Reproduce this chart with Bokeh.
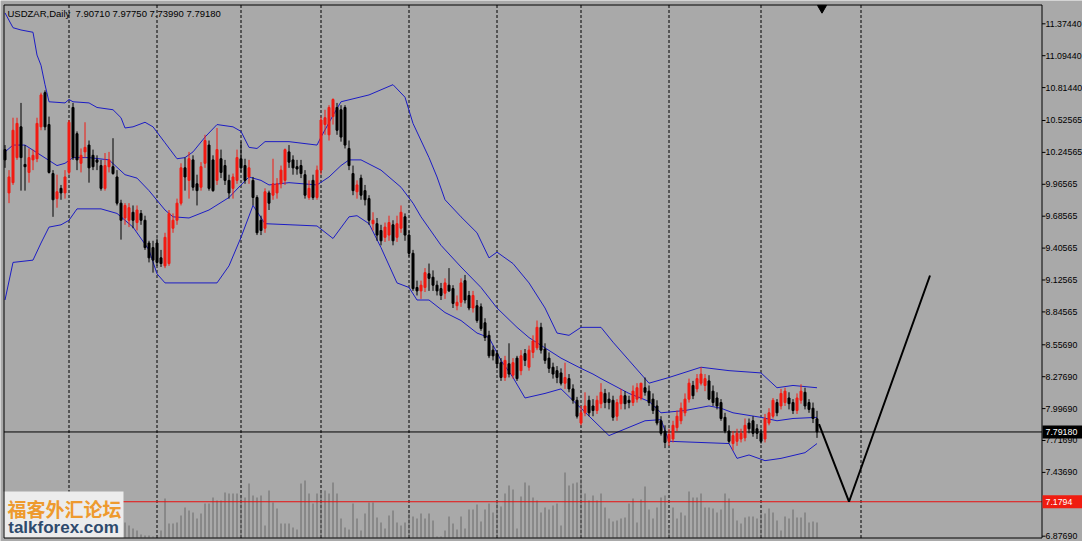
from bokeh.plotting import figure
from bokeh.models import Range1d, ColumnDataSource
from bokeh.core.properties import value
from bokeh.embed import file_html
from bokeh.resources import INLINE

# ---------------- data ----------------
symbol = "USDZAR,Daily"

opens = [
    10.27, 9.89, 9.98, 10.20, 10.47, 10.14, 10.07, 10.18, 10.19, 10.47,
    10.77, 10.49, 10.06, 9.84, 9.93, 9.89, 10.07, 10.64, 10.41, 10.15,
    10.25, 10.31, 10.22, 10.18, 10.13, 9.93, 10.12, 10.12, 10.03, 9.80,
    9.67, 9.65, 9.72, 9.63, 9.71, 9.65, 9.45, 9.41, 9.45, 9.32,
    9.25, 9.27, 9.58, 9.65, 9.80, 10.11, 10.00, 10.18, 9.97, 9.94,
    10.15, 10.31, 10.18, 10.00, 10.19, 10.13, 10.00, 9.93, 10.00, 10.19,
    10.13, 10.03, 10.00, 9.85, 9.65, 9.58, 9.89, 9.87, 9.89, 9.97,
    10.00, 10.25, 10.18, 10.12, 10.13, 10.05, 9.85, 10.00, 9.85, 10.09,
    10.49, 10.40, 10.56, 10.64, 10.62, 10.64, 10.28, 10.06, 9.90, 10.02,
    9.91, 9.84, 9.62, 9.62, 9.56, 9.50, 9.52, 9.61, 9.50, 9.58,
    9.68, 9.52, 9.36, 9.06, 9.03, 9.06, 9.18, 9.15, 9.08, 9.05,
    9.01, 9.08, 9.05, 8.90, 8.93, 9.12, 8.99, 8.88, 8.90, 8.89,
    8.75, 8.64, 8.51, 8.48, 8.40, 8.27, 8.39, 8.29, 8.44, 8.33,
    8.48, 8.36, 8.49, 8.53, 8.71, 8.52, 8.44, 8.36, 8.33, 8.31,
    8.22, 8.26, 8.17, 8.07, 7.87, 7.96, 8.07, 8.02, 7.98, 8.04,
    8.13, 8.08, 8.07, 7.93, 8.04, 8.11, 8.07, 8.05, 8.08, 8.09,
    8.18, 8.15, 8.08, 8.02, 7.89, 7.80, 7.71, 7.73, 7.83, 7.89,
    7.96, 8.08, 8.20, 8.17, 8.22, 8.20, 8.24, 8.15, 8.09, 8.05,
    7.92, 7.80, 7.69, 7.71, 7.73, 7.74, 7.87, 7.89, 7.82, 7.78,
    7.73, 7.87, 7.93, 8.05, 8.02, 8.05, 8.09, 8.05, 7.98, 8.07,
    8.14, 8.05, 8.00, 7.9071,
]
highs = [
    10.31, 10.09, 10.55, 10.55, 10.68, 10.31, 10.28, 10.27, 10.55, 10.77,
    10.79, 10.56, 10.09, 10.05, 9.96, 10.09, 10.53, 10.68, 10.43, 10.28,
    10.51, 10.35, 10.27, 10.22, 10.18, 10.24, 10.25, 10.37, 10.09, 9.83,
    9.80, 9.80, 9.78, 9.78, 9.74, 9.69, 9.47, 9.47, 9.49, 9.39,
    9.54, 9.74, 9.71, 9.84, 10.15, 10.20, 10.25, 10.22, 10.05, 10.16,
    10.40, 10.35, 10.22, 10.46, 10.27, 10.18, 10.05, 10.06, 10.27, 10.34,
    10.19, 10.18, 10.03, 9.87, 9.69, 9.93, 9.91, 10.19, 10.02, 10.13,
    10.28, 10.31, 10.22, 10.18, 10.18, 10.09, 10.00, 10.05, 10.13, 10.56,
    10.62, 10.66, 10.72, 10.68, 10.66, 10.66, 10.35, 10.13, 10.00, 10.05,
    9.96, 9.87, 9.72, 9.67, 9.61, 9.63, 9.69, 9.65, 9.69, 9.78,
    9.71, 9.56, 9.39, 9.12, 9.12, 9.23, 9.27, 9.21, 9.12, 9.10,
    9.14, 9.23, 9.08, 8.99, 9.14, 9.17, 9.03, 9.03, 8.95, 8.92,
    8.79, 8.68, 8.55, 8.51, 8.44, 8.46, 8.57, 8.44, 8.46, 8.51,
    8.52, 8.55, 8.64, 8.77, 8.75, 8.57, 8.49, 8.40, 8.37, 8.35,
    8.40, 8.30, 8.21, 8.10, 8.02, 8.14, 8.11, 8.08, 8.11, 8.22,
    8.17, 8.14, 8.11, 8.08, 8.17, 8.15, 8.11, 8.20, 8.22, 8.22,
    8.27, 8.20, 8.13, 8.07, 7.93, 7.85, 7.82, 7.89, 7.98, 8.05,
    8.13, 8.26, 8.24, 8.30, 8.36, 8.30, 8.29, 8.20, 8.14, 8.08,
    7.96, 7.85, 7.80, 7.82, 7.82, 7.91, 7.91, 7.93, 7.86, 7.82,
    7.95, 8.00, 8.09, 8.08, 8.17, 8.18, 8.14, 8.08, 8.13, 8.21,
    8.18, 8.08, 8.05, 7.9775,
]
lows = [
    10.11, 9.80, 9.96, 10.18, 9.91, 9.91, 9.98, 10.09, 10.16, 10.44,
    10.44, 10.06, 9.68, 9.76, 9.83, 9.84, 10.05, 10.18, 10.09, 10.07,
    10.20, 9.98, 10.09, 10.09, 9.91, 9.91, 10.07, 10.05, 9.78, 9.48,
    9.61, 9.59, 9.58, 9.56, 9.61, 9.39, 9.28, 9.19, 9.25, 9.24,
    9.23, 9.25, 9.54, 9.61, 9.78, 9.91, 9.84, 9.91, 9.78, 9.91,
    10.11, 9.91, 9.90, 9.96, 10.02, 9.96, 9.84, 9.84, 9.97, 10.07,
    9.97, 9.97, 9.78, 9.52, 9.52, 9.54, 9.74, 9.83, 9.84, 9.93,
    9.96, 10.11, 10.05, 10.05, 10.02, 9.84, 9.83, 9.83, 9.83, 10.05,
    10.40, 10.35, 10.49, 10.40, 10.34, 10.28, 10.09, 9.87, 9.84, 9.83,
    9.78, 9.61, 9.56, 9.47, 9.43, 9.46, 9.47, 9.43, 9.46, 9.54,
    9.47, 9.33, 9.03, 8.99, 8.96, 9.02, 9.03, 9.03, 8.99, 8.95,
    8.96, 9.02, 8.88, 8.86, 8.89, 8.92, 8.86, 8.84, 8.75, 8.68,
    8.59, 8.44, 8.42, 8.35, 8.24, 8.24, 8.27, 8.26, 8.24, 8.29,
    8.37, 8.33, 8.44, 8.51, 8.48, 8.39, 8.31, 8.26, 8.22, 8.20,
    8.17, 8.14, 8.04, 7.91, 7.85, 7.93, 7.93, 7.93, 7.95, 8.00,
    8.00, 7.99, 7.89, 7.89, 7.99, 7.99, 8.00, 8.02, 8.05, 8.07,
    8.11, 8.02, 7.95, 7.85, 7.76, 7.65, 7.67, 7.70, 7.80, 7.86,
    7.93, 8.05, 8.08, 8.14, 8.20, 8.15, 8.07, 8.02, 7.99, 7.89,
    7.78, 7.69, 7.63, 7.67, 7.70, 7.71, 7.78, 7.75, 7.73, 7.69,
    7.70, 7.85, 7.91, 7.93, 7.99, 8.02, 7.99, 7.95, 7.95, 8.04,
    7.99, 7.96, 7.87, 7.7399,
]
closes = [
    10.18, 10.03, 10.44, 10.50, 10.20, 10.12, 10.20, 10.22, 10.50, 10.75,
    10.47, 10.07, 9.83, 9.90, 9.89, 10.03, 10.51, 10.20, 10.18, 10.22,
    10.29, 10.11, 10.12, 10.16, 9.93, 10.13, 10.18, 10.06, 9.80, 9.65,
    9.78, 9.76, 9.65, 9.74, 9.65, 9.41, 9.32, 9.30, 9.28, 9.27,
    9.50, 9.71, 9.65, 9.80, 10.11, 10.03, 10.19, 9.94, 9.91, 10.12,
    10.35, 9.93, 9.91, 10.27, 10.07, 10.00, 9.89, 10.03, 10.20, 10.11,
    10.00, 10.11, 9.85, 9.54, 9.56, 9.90, 9.80, 9.97, 9.97, 10.09,
    10.27, 10.16, 10.11, 10.10, 10.06, 9.87, 9.93, 9.85, 10.09, 10.53,
    10.55, 10.64, 10.71, 10.44, 10.38, 10.31, 10.13, 9.91, 9.96, 9.87,
    9.83, 9.65, 9.65, 9.52, 9.47, 9.59, 9.63, 9.47, 9.62, 9.72,
    9.52, 9.36, 9.05, 9.03, 9.08, 9.19, 9.14, 9.08, 9.03, 8.99,
    9.10, 9.03, 8.92, 8.93, 9.10, 8.95, 8.88, 8.99, 8.77, 8.70,
    8.62, 8.46, 8.46, 8.39, 8.27, 8.42, 8.30, 8.40, 8.26, 8.46,
    8.42, 8.51, 8.59, 8.71, 8.51, 8.42, 8.35, 8.30, 8.27, 8.22,
    8.27, 8.17, 8.07, 7.93, 7.96, 8.02, 7.96, 7.98, 8.07, 8.14,
    8.05, 8.05, 7.92, 8.05, 8.11, 8.04, 8.05, 8.15, 8.18, 8.22,
    8.14, 8.05, 7.98, 7.87, 7.78, 7.70, 7.77, 7.85, 7.93, 8.00,
    8.08, 8.22, 8.11, 8.26, 8.30, 8.26, 8.08, 8.05, 8.02, 7.91,
    7.80, 7.71, 7.76, 7.78, 7.78, 7.85, 7.82, 7.78, 7.78, 7.71,
    7.91, 7.96, 8.07, 7.96, 8.13, 8.15, 8.04, 7.98, 8.09, 8.15,
    8.02, 7.99, 7.91, 7.7918,
]
volumes = [
    28, 33, 26, 30, 36, 29, 25, 27, 31, 38, 35, 29, 33, 27, 24, 29, 35, 32, 28, 26,
    30, 29, 25, 23, 27, 31, 26, 24, 29, 21,
    15, 12, 9, 7, 3, 2, 2, 1, 1, 7,
    39, 14, 14, 15, 22, 30, 27, 25, 19, 24,
    34, 34, 40, 37, 37, 45, 44, 44, 44, 40,
    40, 54, 42, 40, 42, 12, 47, 35, 29, 14,
    14, 14, 10, 8, 54, 57, 44, 34, 44, 47,
    47, 44, 55, 44, 19, 10, 8, 34, 19, 7,
    24, 35, 35, 20, 15, 9, 22, 27, 15, 12,
    15, 24, 21, 19, 24, 19, 24, 17, 1, 1,
    7, 21, 14, 8, 21, 9, 28, 28, 33, 16,
    28, 34, 25, 37, 31, 44, 52, 48, 9, 41,
    55, 52, 40, 37, 25, 30, 28, 32, 34, 12,
    65, 52, 54, 55, 59, 44, 37, 42, 37, 44,
    30, 19, 16, 17, 19, 20, 34, 39, 15, 38,
    51, 28, 19, 30, 40, 42, 12, 30, 19, 25,
    22, 46, 40, 40, 44, 30, 30, 29, 25, 28,
    44, 39, 29, 17, 14, 20, 21, 21, 19, 24,
    24, 29, 25, 17, 7, 21, 19, 28, 20, 20,
    25, 15, 16, 15,
]

# Bollinger bands (bar index, price)
up_idx = [0, 2, 4, 7, 8, 9, 10, 11, 15, 16, 17, 21, 23, 27, 29, 30, 32, 35, 37, 40,
          43, 45, 47, 50, 53, 57, 59, 61, 63, 65, 71, 78, 79, 82, 84, 91, 97, 100, 102, 106,
          108, 110, 114, 118, 121, 123, 127, 131, 135, 138, 141, 144, 149, 152, 156, 161, 166, 174, 181, 189,
          193, 197, 203]
up_val = [11.47, 11.34, 11.32, 11.30, 11.10, 11.01, 10.84, 10.69, 10.68, 10.71, 10.69, 10.68, 10.64, 10.62, 10.55, 10.46, 10.47, 10.51, 10.47, 10.33,
          10.19, 10.20, 10.25, 10.38, 10.49, 10.47, 10.43, 10.29, 10.28, 10.34, 10.34, 10.31, 10.38, 10.57, 10.69, 10.75, 10.84, 10.73, 10.50, 10.20,
          10.03, 9.83, 9.68, 9.54, 9.32, 9.37, 9.27, 9.10, 8.88, 8.66, 8.64, 8.71, 8.71, 8.58, 8.42, 8.22, 8.27, 8.36, 8.33, 8.31,
          8.18, 8.20, 8.18]
mid_idx = [0, 2, 5, 9, 13, 15, 17, 21, 26, 30, 33, 36, 40, 42, 46, 51, 56, 59, 61, 64,
           66, 71, 78, 81, 84, 86, 89, 94, 99, 102, 104, 109, 114, 119, 123, 128, 131, 135, 139, 144,
           147, 149, 156, 161, 164, 170, 176, 179, 182, 189, 193, 197, 203]
mid_val = [10.25, 10.31, 10.31, 10.22, 10.13, 10.15, 10.20, 10.20, 10.18, 10.05, 10.02, 9.91, 9.74, 9.68, 9.67, 9.74, 9.85, 9.96, 10.03, 10.00,
           9.96, 9.98, 9.96, 10.03, 10.13, 10.18, 10.18, 10.09, 9.94, 9.80, 9.68, 9.43, 9.24, 9.06, 8.88, 8.71, 8.62, 8.53, 8.44, 8.35,
           8.30, 8.26, 8.13, 8.06, 7.96, 7.98, 8.02, 8.00, 7.96, 7.92, 7.89, 7.91, 7.92]
lo_idx = [0, 2, 7, 9, 11, 14, 16, 18, 24, 28, 32, 36, 38, 40, 53, 56, 59, 62, 65, 78,
          82, 86, 88, 91, 94, 98, 101, 103, 106, 110, 114, 118, 121, 124, 127, 130, 135, 139, 144, 151,
          160, 164, 166, 181, 183, 186, 190, 194, 200, 203]
lo_val = [8.95, 9.28, 9.30, 9.45, 9.59, 9.61, 9.65, 9.75, 9.75, 9.71, 9.59, 9.39, 9.18, 9.10, 9.10, 9.25, 9.50, 9.78, 9.62, 9.60,
          9.49, 9.68, 9.69, 9.62, 9.41, 9.10, 9.06, 8.95, 8.95, 8.84, 8.77, 8.66, 8.62, 8.42, 8.27, 8.09, 8.13, 8.17, 8.00, 7.76,
          7.89, 7.90, 7.71, 7.69, 7.56, 7.59, 7.54, 7.56, 7.61, 7.69]

# monthly period separators (bar index of month start)
separators = [16, 38, 59, 79, 101, 123, 144, 166, 189, 214]

tick_vals = [11.3744, 11.0944, 10.8144, 10.52565, 10.24565, 9.96565, 9.68565, 9.40565,
             9.12565, 8.84565, 8.5569, 8.2769, 7.9969, 7.7169, 7.4369, 6.8769]
tick_labels = ["11.37440", "11.09440", "10.81440", "10.52565", "10.24565", "9.96565", "9.68565", "9.40565",
               "9.12565", "8.84565", "8.55690", "8.27690", "7.99690", "7.71690", "7.43690", "6.87690"]

last_price = 7.7918
target_level = 7.1794
forecast_x = [203.5, 211.0, 231.25]
forecast_y = [7.86, 7.1794, 9.165]
shift_marker_bar = 204.25

logo_cn = "福客外汇论坛"
logo_url = "talkforex.com"

# ---------------- layout ----------------
W, H = 1082, 541
BAR_PX = 4.0
PPU = 113.93                       # px per price unit
X0 = -4.5 / BAR_PX                 # bar i centred at pixel 4.5 + 4 i
X1 = X0 + W / BAR_PX
Y1 = 11.5789                       # price at the top pixel row
Y0 = Y1 - H / PPU


def sx(px):
    return X0 + px / BAR_PX


def sy(py):
    return Y1 - py / PPU


# chart box (pixels): left 3, top 4, right (price scale line) 1041, bottom 537
CL, CT, CR, CB = 3.5, 4.5, 1041.5, 537.5

BG = "#A9A9A9"
BLUE = "#1C1CC4"
RED = "#F21A12"
FONT = "Liberation Sans"

p = figure(width=W, height=H, x_range=Range1d(X0, X1), y_range=Range1d(Y0, Y1),
           output_backend="svg", toolbar_location=None,
           x_axis_location=None, y_axis_location=None,
           min_border_left=0, min_border_right=0, min_border_top=0, min_border_bottom=0,
           background_fill_color=BG, border_fill_color=BG)
p.outline_line_color = None
p.grid.visible = False

idx = list(range(len(opens)))
colors = [RED if c > o else "black" for o, c in zip(opens, closes)]
src = ColumnDataSource(dict(
    x=idx, o=opens, h=highs, l=lows, c=closes,
    top=[max(o, c) for o, c in zip(opens, closes)],
    bottom=[min(o, c) for o, c in zip(opens, closes)],
    color=colors, vol=volumes, zero=[0] * len(idx)))

# period separators
n_sep = len(separators)
p.segment(x0=separators, x1=separators, y0=[sy(CB)] * n_sep, y1=[sy(CT)] * n_sep,
          line_color="black", line_width=1, line_dash="3 2")

# volumes on their own scale (1 unit = 1 px above the chart bottom)
p.extra_y_ranges = {"vol": Range1d(-(H - CB + 0.5), CB - 0.5)}
p.segment(x0="x", x1="x", y0="zero", y1="vol", y_range_name="vol",
          line_color="#686868", line_width=1, source=src)

# Bollinger bands
p.line(up_idx, up_val, line_color=BLUE, line_width=1)
p.line(mid_idx, mid_val, line_color=BLUE, line_width=1)
p.line(lo_idx, lo_val, line_color=BLUE, line_width=1)

# horizontal levels
p.line([sx(CL), sx(CR)], [last_price, last_price], line_color="black", line_width=1)
p.line([sx(CL), sx(CR)], [target_level, target_level], line_color="#E81010", line_width=1)

# candles
p.segment(x0="x", x1="x", y0="l", y1="h", line_color="color", line_width=1, source=src)
p.vbar(x="x", width=0.5, top="top", bottom="bottom", fill_color="color",
       line_color="color", line_width=1, source=src)

# forecast drawing
p.line(forecast_x, forecast_y, line_color="black", line_width=2)

# chart shift marker
p.scatter([shift_marker_bar], [sy(7.5)], marker="inverted_triangle", size=9,
          fill_color="black", line_color="black")

# title
title = f"{symbol}\u00a0\u00a0{opens[-1]:.5f} {highs[-1]:.5f} {lows[-1]:.5f} {closes[-1]:.5f}"
p.text(x=[sx(7)], y=[sy(12.5)], text=[title], text_font=value(FONT), text_font_size="9.5px",
       text_color="black", text_baseline="middle", text_align="left")

# watermark logo
p.quad(left=[sx(3)], right=[sx(123)], top=[sy(491)], bottom=[sy(CB)],
       fill_color="#ECECEC", line_color=None)
p.text(x=[sx(64)], y=[sy(508)], text=[logo_cn], text_font=value("Noto Sans CJK SC"),
       text_font_size="19px", text_font_style="bold", text_color="#EE9A2E",
       text_align="center", text_baseline="middle")
p.text(x=[sx(63)], y=[sy(527)], text=[logo_url], text_font=value(FONT),
       text_font_size="17px", text_font_style="bold", text_color="#2E4A6C",
       text_align="center", text_baseline="middle")

# chart frame and price scale line
p.line([sx(CL), sx(CR), sx(CR), sx(CL), sx(CL)], [sy(CT), sy(CT), sy(CB), sy(CB), sy(CT)],
       line_color="black", line_width=1)

# price scale: ticks and labels
n_t = len(tick_vals)
p.segment(x0=[sx(CR)] * n_t, x1=[sx(CR + 3.5)] * n_t, y0=tick_vals, y1=tick_vals,
          line_color="black", line_width=1)
p.text(x=[sx(1045)] * n_t, y=tick_vals, text=tick_labels, text_font=value(FONT),
       text_font_size="8.8px", text_color="black", text_baseline="middle", text_align="left")

# price boxes
box_h = 6.5 / PPU
p.quad(left=[sx(1042), sx(1042)], right=[sx(W), sx(W)],
       top=[last_price + box_h, target_level + box_h],
       bottom=[last_price - box_h, target_level - box_h],
       fill_color=["black", "#F01C10"], line_color=None)
p.text(x=[sx(1045)], y=[last_price], text=[f"{last_price:.5f}"], text_font=value(FONT),
       text_font_size="8.8px", text_color="white", text_baseline="middle", text_align="left")
p.text(x=[sx(1045)], y=[target_level], text=[f"{target_level:.4f}"], text_font=value(FONT),
       text_font_size="8.8px", text_color="white", text_baseline="middle", text_align="left")

open("out.html", "w").write(file_html(p, INLINE))
